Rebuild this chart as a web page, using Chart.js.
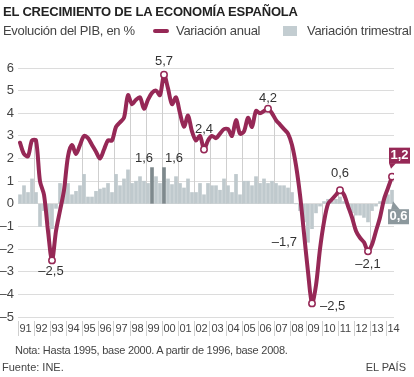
<!DOCTYPE html>
<html>
<head>
<meta charset="utf-8">
<script src="https://cdn.jsdelivr.net/npm/chart.js@4.4.1/dist/chart.umd.min.js"></script>
<style>
  html, body { margin: 0; padding: 0; background: #fff; }
  body { width: 414px; height: 377px; position: relative; overflow: hidden;
         font-family: "Liberation Sans", Arial, sans-serif; color: #333; }
  #wrap { position: absolute; left: 0; top: 0; width: 414px; height: 377px; }
  .t { position: absolute; white-space: nowrap; line-height: 15px; }
  #title { left: 3px; top: 4px; font-size: 13px; font-weight: bold; color: #222; letter-spacing: -0.2px; }
  #sub { left: 3px; top: 23px; font-size: 13px; color: #444; letter-spacing: -0.3px; }
  #lg1 { left: 176px; top: 23px; font-size: 13px; color: #444; letter-spacing: -0.3px; }
  #lg2 { left: 307px; top: 23px; font-size: 13px; color: #444; letter-spacing: -0.3px; }
  #sw1 { position: absolute; left: 153px; top: 29px; width: 16px; height: 4px; border-radius: 2px; background: #962856; }
  #sw2 { position: absolute; left: 283px; top: 26px; width: 14px; height: 10px; background: #c3cdd1; }
  #note { left: 15px; top: 343px; font-size: 11px; color: #444; letter-spacing: -0.25px; }
  #src { left: 2px; top: 360px; font-size: 11px; color: #444; }
  #brand { right: 8px; top: 360px; font-size: 11px; color: #444; }
</style>
</head>
<body>
<div id="wrap"><canvas id="pib"></canvas></div>
<div class="t" id="title">EL CRECIMIENTO DE LA ECONOMÍA ESPAÑOLA</div>
<div class="t" id="sub">Evolución del PIB, en %</div>
<div id="sw1"></div><div class="t" id="lg1">Variación anual</div>
<div id="sw2"></div><div class="t" id="lg2">Variación trimestral</div>
<div class="t" id="note">Nota: Hasta 1995, base 2000. A partir de 1996, base 2008.</div>
<div class="t" id="src">Fuente: INE.</div>
<div class="t" id="brand">EL PAÍS</div>
<script>
// one label per year, 1991 - 2014
const yearLabels = ["91", "92", "93", "94", "95", "96", "97", "98", "99", "00", "01", "02",
  "03", "04", "05", "06", "07", "08", "09", "10", "11", "12", "13", "14"];

// year-on-year growth, one value per quarter (1991 T1 - 2014 T2)
const annual = [
  2.7, 2.2, 2.1, 2.8, 2.8, 1.0, 0.4, -1.2, -2.5, -1.2, -0.3, 0.6,
  2.1, 2.6, 2.2, 2.6, 3.0, 2.9, 2.6, 2.3, 2.0, 2.4, 2.8, 2.8,
  3.4, 3.6, 3.8, 4.8, 4.4, 4.6, 4.7, 4.2, 4.6, 4.9, 5.0, 4.8,
  5.7, 5.1, 4.4, 4.7, 4.0, 3.4, 3.9, 3.2, 2.8, 3.0, 2.4, 2.8,
  3.0, 2.9, 3.1, 3.3, 3.3, 3.0, 3.7, 3.1, 3.2, 3.8, 3.4, 4.1,
  4.0, 4.1, 4.2, 4.0, 3.7, 3.5, 3.3, 3.1, 2.6, 1.7, 0.4, -1.3,
  -3.0, -4.4, -3.6, -2.0, -0.8, 0.0, 0.2, 0.4, 0.6, 0.4, -0.1, -0.6,
  -1.2, -1.5, -1.7, -2.1, -1.8, -1.2, -0.6, 0.2, 0.7, 1.2
];

// quarter-on-quarter growth
const quarterly = [
  0.4, 0.8, 0.5, 1.1, 0.5, -1.0, -0.3, -0.9, -1.1, -0.2, 0.9, 0.6,
  0.9, 0.4, 0.55, 0.8, 1.3, 0.3, 0.3, 0.55, 0.65, 0.7, 0.9, 0.5,
  1.3, 0.8, 1.1, 1.5, 0.9, 1.0, 1.2, 1.0, 0.9, 1.6, 1.2, 0.9,
  1.6, 1.1, 0.85, 1.2, 0.9, 0.7, 1.1, 0.5, 0.5, 0.9, 0.4, 0.9,
  0.8, 0.8, 0.6, 1.1, 0.8, 0.5, 1.3, 0.4, 1.0, 1.0, 0.8, 1.2,
  0.9, 1.1, 0.9, 1.0, 0.9, 0.8, 0.8, 0.7, 0.5, 0.0, -0.3, -0.8,
  -1.7, -1.1, -0.4, -0.1, 0.1, 0.2, 0.1, 0.2, 0.3, 0.1, -0.1, -0.4,
  -0.5, -0.5, -0.6, -0.8, -0.3, -0.1, 0.1, 0.2, 0.4, 0.6
];

const darkBars = [33, 36];
const markedPoints = [8, 36, 46, 62, 73, 80, 87, 93];
const lineNoteIdx = [8, 36, 46, 62, 73, 80, 87];
const lineNoteText = ["–2,5", "5,7", "2,4", "4,2", "–2,5", "0,6", "–2,1"];
const barNoteIdx = [33, 36, 72];
const barNoteText = ["1,6", "1,6", "–1,7"];
const lastAnnualText = "1,2";
const lastQuarterText = "0,6";

const RED = "#962856";
const BAR = "#bfc9cd";
const BAR_DARK = "#7e898d";

// offsets of the value labels from their point / bar end
const lineNoteStyle = [
  { dx: -1, dy: 11, align: "center" },
  { dx: 0, dy: -13, align: "center" },
  { dx: 0, dy: -20, align: "center" },
  { dx: 0, dy: -10, align: "center" },
  { dx: 8, dy: 3, align: "left" },
  { dx: 0, dy: -17, align: "center" },
  { dx: 0, dy: 13, align: "center" },
];
const barNoteStyle = [
  { dx: 1, dy: -9, align: "right" },
  { dx: 1, dy: -9, align: "left" },
  { dx: -11, dy: 0, align: "right" },
];

const xy = (arr) => arr.map((v, i) => ({ x: i + 0.5, y: v }));

const overlay = {
  id: "overlay",
  beforeDatasetsDraw(chart) {
    const { ctx, scales: { x, y } } = chart;
    ctx.save();
    ctx.strokeStyle = "#cfcfcf";
    ctx.lineWidth = 1;
    for (let k = 1; k < yearLabels.length; k++) {
      const q = k * 4;
      if (q >= annual.length) break;
      const v = (annual[q - 1] + annual[q]) / 2;
      const px = Math.round(x.getPixelForValue(q)) + 0.5;
      ctx.beginPath();
      ctx.moveTo(px, y.getPixelForValue(0));
      ctx.lineTo(px, y.getPixelForValue(v));
      ctx.stroke();
    }
    ctx.restore();
  },
  afterDatasetsDraw(chart) {
    const { ctx, scales: { x, y } } = chart;
    ctx.save();
    ctx.font = '13px "Liberation Sans", Arial, sans-serif';
    ctx.fillStyle = "#333";
    ctx.textBaseline = "middle";
    lineNoteIdx.forEach((i, n) => {
      const s = lineNoteStyle[n];
      ctx.textAlign = s.align;
      ctx.fillText(lineNoteText[n], x.getPixelForValue(i + 0.5) + s.dx, y.getPixelForValue(annual[i]) + s.dy);
    });
    barNoteIdx.forEach((i, n) => {
      const s = barNoteStyle[n];
      ctx.textAlign = s.align;
      ctx.fillText(barNoteText[n], x.getPixelForValue(i + 0.5) + s.dx, y.getPixelForValue(quarterly[i]) + s.dy);
    });

    // tag on the last annual value
    const last = annual.length - 1;
    const px = x.getPixelForValue(last + 0.5);
    const py = y.getPixelForValue(annual[last]);
    ctx.fillStyle = RED;
    ctx.fillRect(px - 3, py - 29, 21, 16);
    ctx.beginPath();
    ctx.moveTo(px - 3, py - 13.5);
    ctx.lineTo(px + 4, py - 13.5);
    ctx.lineTo(px - 1, py - 8);
    ctx.closePath();
    ctx.fill();
    ctx.fillStyle = "#fff";
    ctx.font = 'bold 13px "Liberation Sans", Arial, sans-serif';
    ctx.textAlign = "center";
    ctx.fillText(lastAnnualText, px + 7.5, py - 21);

    // tag on the last quarterly value
    const by = y.getPixelForValue(quarterly[last]);
    ctx.fillStyle = "#8c989d";
    ctx.fillRect(px - 4, by + 19, 21, 15);
    ctx.beginPath();
    ctx.moveTo(px - 1, by + 19.5);
    ctx.lineTo(px + 8, by + 19.5);
    ctx.lineTo(px + 1, by + 11);
    ctx.closePath();
    ctx.fill();
    ctx.fillStyle = "#fff";
    ctx.fillText(lastQuarterText, px + 6.5, by + 26.5);
    ctx.restore();
  },
};

new Chart(document.getElementById("pib"), {
  type: "bar",
  data: {
    datasets: [
      {
        type: "line",
        data: xy(annual),
        borderColor: RED,
        borderWidth: 4,
        borderCapStyle: "round",
        borderJoinStyle: "round",
        tension: 0.3,
        pointRadius: (c) => (markedPoints.includes(c.dataIndex) ? 3.2 : 0),
        pointBackgroundColor: "#fff",
        pointBorderColor: RED,
        pointBorderWidth: 1.5,
        order: 0,
      },
      {
        type: "bar",
        data: xy(quarterly),
        backgroundColor: (c) => (darkBars.includes(c.dataIndex) ? BAR_DARK : BAR),
        barThickness: 3,
        order: 1,
      },
    ],
  },
  options: {
    responsive: true,
    maintainAspectRatio: false,
    animation: false,
    layout: { padding: { left: 0, right: 20, top: 68, bottom: 36 } },
    plugins: { legend: { display: false }, tooltip: { enabled: false } },
    scales: {
      x: {
        type: "linear",
        offset: false,
        min: 0,
        max: annual.length,
        afterBuildTicks: (s) => {
          s.ticks = yearLabels.map((_, k) => ({ value: k * 4 }));
        },
        afterFit: (s) => {
          s.height = 24;
          s.paddingLeft = 0;
          s.paddingRight = 0;
        },
        grid: {
          offset: false,
          drawOnChartArea: false,
          drawTicks: true,
          tickLength: 19,
          tickColor: "#cfcfcf",
          tickBorderDash: [0, 4, 15, 0],
        },
        border: { display: false },
        ticks: {
          autoSkip: false,
          maxRotation: 0,
          padding: -14,
          labelOffset: 7.5,
          color: "#444",
          font: { family: '"Liberation Sans", Arial, sans-serif', size: 11 },
          callback: (v, i) => yearLabels[i],
        },
      },
      y: {
        min: -5,
        max: 6,
        afterFit: (s) => {
          s.width = 18;
          s.paddingTop = 0;
          s.paddingBottom = 0;
        },
        grid: { color: "#dcdcdc", drawTicks: false },
        border: { display: false },
        ticks: {
          stepSize: 1,
          padding: 4,
          color: "#444",
          font: { family: '"Liberation Sans", Arial, sans-serif', size: 13 },
          callback: (v) => (v < 0 ? "–" + Math.abs(v) : String(v)),
        },
      },
    },
  },
  plugins: [overlay],
});
</script>
</body>
</html>
